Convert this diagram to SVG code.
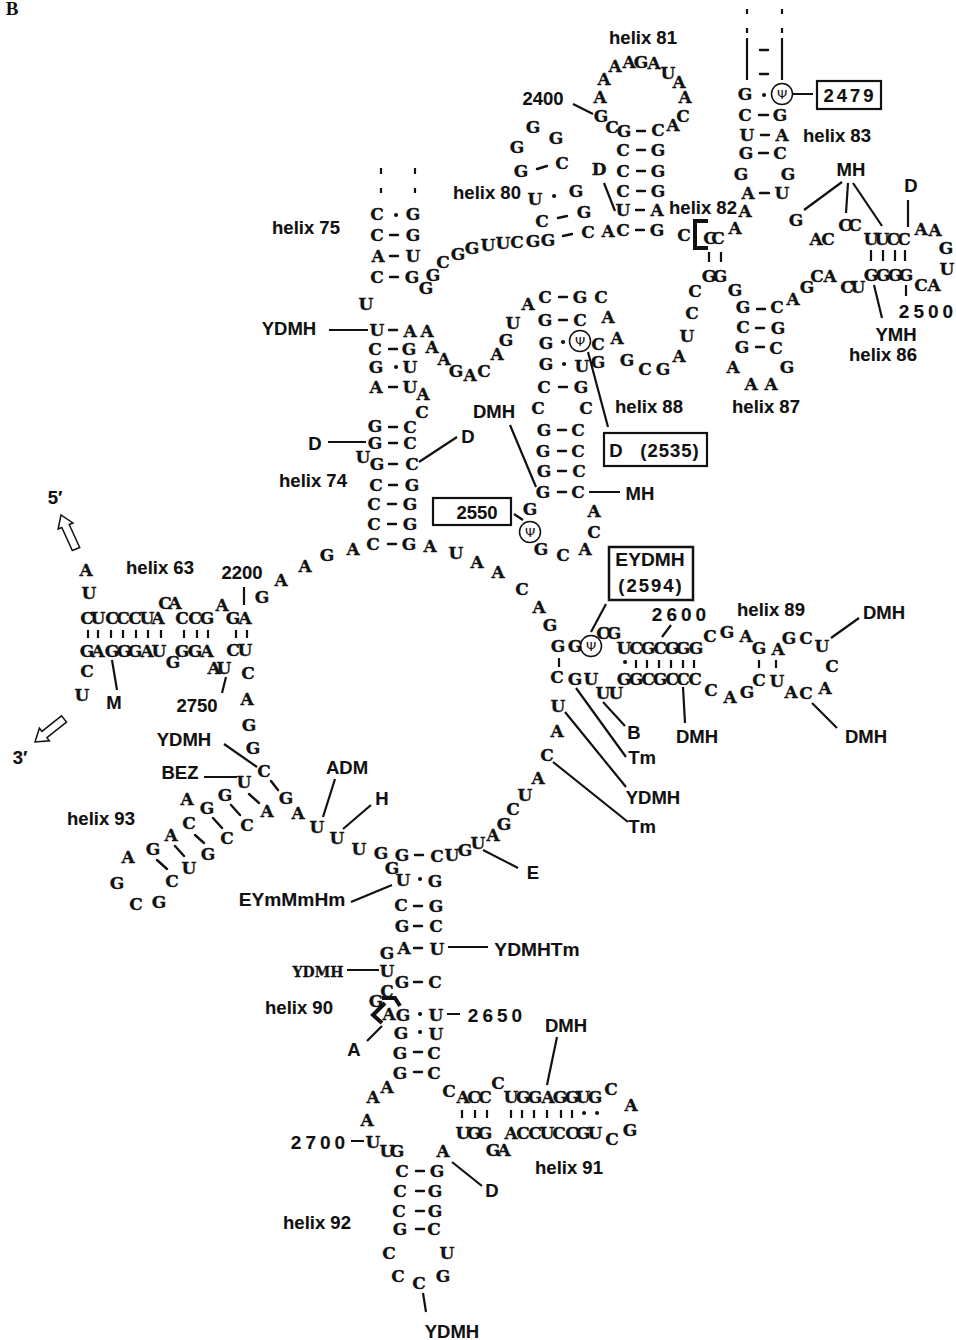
<svg xmlns="http://www.w3.org/2000/svg" width="956" height="1340" viewBox="0 0 956 1340">
<style>
text{dominant-baseline:central;text-anchor:middle;fill:#111}
.n text{font:bold 17px "DejaVu Serif","Liberation Serif",serif;stroke:#111;stroke-width:.3}
.n text.l{font:bold 18.5px "Liberation Sans",Arial,sans-serif;stroke-width:.1}
.n text.s{letter-spacing:3px}
.n text.w{letter-spacing:4px;font-size:19px}
.n text.x{font-size:19.2px}
.n text.g{font:13px "DejaVu Sans",sans-serif;stroke:none}
.c{fill:none;stroke:#111;stroke-width:2.2}
.d{fill:none;stroke:#111;stroke-width:2.4;stroke-linecap:round}
.p{fill:#fff;stroke:#111;stroke-width:1.5}
</style>
<rect width="956" height="1340" fill="#fff"/>
<g id="connectors">
<path class="c" d="M604 183L615 211M573 104L593 114M793 94H813M842 182L804 210M848 183L846 213M853 183L882 226M908 200V227M874 285L882 318M906 285V296M329 330H368M588 352L608 427M328 442H366M419 462L457 437M510 425L536 487M589 492H620M514 514L523 520M606 604L591 632M671 625L662 637M859 618L831 638M812 703L837 728M683 687L685 723M603 702L625 726M576 688L626 757M565 712L626 787M553 762L628 822M224 744L257 767M204 777H237M335 779L323 817M371 805L343 829M483 850L518 868M351 902L392 885M448 947H488M347 970H379M447 1014H460M382 1026L367 1041M351 1141H364M557 1037L547 1085M452 1162L482 1186M423 1293L426 1312M112 660L117 690M226 677L222 693M244 587V605"/>
<path class="c" d="M747 9V14M747 28V33M747 38V80M782 9V14M782 28V33M782 38V80M381 168V174M381 188V193M415 168V174M415 188V193M709 252V262M721 252V262M871 250V261M883 250V261M895 250V261M905 250V261M636 660V668M647 660V668M659 660V668M671 660V668M683 660V668M694 660V668M559 658V667M759 660V668M776 660V668M462 1110V1118M475 1110V1118M487 1110V1118M511 1110V1118M522 1110V1118M534 1110V1118M547 1110V1118M561 1110V1118M572 1110V1118M88 630V638M98 630V638M111 630V638M123 630V638M136 630V638M148 630V638M161 630V638M184 630V638M197 630V638M208 630V638M236 630V638M247 630V638"/>
<path class="d" d="M760 50h8M760 74h8M637 131h8M637 150h8M637 171h8M637 191h8M636 210h8M636 230h8M537 169l10-3M558 218l9-2M563 236l9-2M759 115h9M761 135h8M759 153h9M760 193h9M390 235h8M390 256h8M390 277h8M389 330h8M389 349h8M389 387h8M559 297h8M559 320h8M559 387h8M757 309h8M756 328h8M756 347h8M389 427h8M389 443h8M389 464h8M389 485h8M388 504h8M388 524h8M388 544h8M558 430h8M558 451h8M558 471h8M558 492h8M415 855h8M414 906h8M414 926h8M414 948h8M414 982h8M414 1052h8M414 1072h8M416 1171h8M416 1191h8M416 1211h8M416 1229h8M271 781l7 9M249 794l10 9M231 805l9 10M213 818l9 10M195 835l9 8M175 846l9 10M157 860l10 9"/>
<path d="M554 196h.1M764 95h.1M396 215h.1M563 342h.1M564 364h.1M396 367h.1M420 879h.1M420 1014h.1M420 1032h.1M625 662h.1M584 1113h.1M597 1113h.1" fill="none" stroke="#111" stroke-width="4" stroke-linecap="round"/>
<path fill="none" stroke="#111" stroke-width="4" d="M708 221H695V248H708M382 998L395 998L400 1006M385 1003L373 1015L382 1023"/>
<polygon class="p" points="79.7,547.5 69.2,524.5 72.9,523 61,515 58.1,529 61.8,527.5 72.3,550.5"/>
<polygon class="p" points="66.5,722.1 46.9,737.6 49.4,740.8 35,742 39.4,728.2 41.9,731.4 61.5,715.9"/>
</g>
<g id="helix-63" class="n">
<text class="l" x="160" y="567">helix 63</text><text class="l" x="242" y="572">2200</text><text class="l" x="197" y="705">2750</text><text class="l" x="114" y="702">M</text><text class="l" x="55" y="497">5′</text><text class="l" x="20" y="757">3′</text>
<text x="86" y="570">A</text><text x="89" y="593">U</text><text x="87" y="618">C</text><text x="98" y="618">U</text><text x="112" y="618">C</text><text x="123" y="618">C</text><text x="135" y="618">C</text><text x="147" y="618">U</text><text x="158" y="618">A</text><text x="165" y="603">C</text><text x="175" y="603">A</text><text x="182" y="618">C</text><text x="195" y="618">C</text><text x="207" y="618">G</text><text x="222" y="605">A</text><text x="233" y="618">G</text><text x="245" y="618">A</text><text x="262" y="597">G</text>
<text x="87" y="651">G</text><text x="98" y="651">A</text><text x="112" y="651">G</text><text x="124" y="651">G</text><text x="135" y="651">G</text><text x="147" y="651">A</text><text x="159" y="651">U</text><text x="173" y="662">G</text><text x="182" y="651">G</text><text x="195" y="651">G</text><text x="207" y="651">A</text><text x="214" y="668">A</text><text x="224" y="668">U</text><text x="233" y="650">C</text><text x="245" y="650">U</text><text x="87" y="671">C</text><text x="82" y="695">U</text>
</g>
<g id="helix-74-75" class="n">
<text class="l" x="306" y="227">helix 75</text><text class="l" x="313" y="480">helix 74</text><text class="l" x="289" y="328">YDMH</text><text class="l" x="315" y="443">D</text><text class="l" x="468" y="436">D</text>
<text x="281" y="580">A</text><text x="305" y="566">A</text><text x="327" y="555">G</text><text x="353" y="549">A</text>
<text x="373" y="544">C</text><text x="409" y="544">G</text><text x="430" y="546">A</text><text x="374" y="524">C</text><text x="410" y="524">G</text><text x="374" y="504">C</text><text x="410" y="504">G</text><text x="376" y="485">C</text><text x="412" y="485">G</text><text x="377" y="464">G</text><text x="412" y="464">C</text><text x="363" y="457">U</text><text x="375" y="443">G</text><text x="410" y="443">C</text><text x="375" y="426">G</text><text x="410" y="427">C</text><text x="422" y="412">C</text><text x="423" y="394">A</text>
<text x="376" y="387">A</text><text x="410" y="387">U</text><text x="376" y="367">G</text><text x="410" y="367">U</text><text x="375" y="349">C</text><text x="409" y="349">G</text><text x="377" y="330">U</text><text x="410" y="331">A</text><text x="427" y="331">A</text><text x="366" y="304">U</text>
<text x="377" y="277">C</text><text x="412" y="277">G</text><text x="378" y="256">A</text><text x="413" y="256">U</text><text x="377" y="235">C</text><text x="413" y="235">G</text><text x="377" y="214">C</text><text x="413" y="214">G</text>
</g>
<g id="helix-80" class="n">
<text class="l" x="487" y="192">helix 80</text>
<text x="426" y="288">G</text><text x="433" y="275">G</text><text x="443" y="262">C</text><text x="458" y="254">G</text><text x="472" y="248">G</text><text x="488" y="245">U</text><text x="503" y="243">U</text><text x="517" y="242">C</text><text x="533" y="241">G</text><text x="548" y="240">G</text><text x="588" y="232">C</text><text x="542" y="221">C</text><text x="584" y="212">G</text><text x="535" y="199">U</text><text x="576" y="191">G</text><text x="521" y="171">G</text><text x="562" y="163">C</text><text x="517" y="147">G</text><text x="533" y="127">G</text><text x="556" y="138">G</text>
</g>
<g id="helix-81" class="n">
<text class="l" x="643" y="37">helix 81</text><text class="l" x="543" y="98">2400</text><text x="599" y="169">D</text>
<text x="608" y="231">A</text><text x="623" y="230">C</text><text x="657" y="230">G</text><text x="623" y="210">U</text><text x="657" y="210">A</text><text x="623" y="191">C</text><text x="658" y="191">G</text><text x="623" y="171">C</text><text x="658" y="171">G</text><text x="623" y="150">C</text><text x="658" y="150">G</text><text x="624" y="131">G</text><text x="658" y="130">C</text><text x="612" y="127">C</text><text x="601" y="116">G</text><text x="600" y="97">A</text><text x="604" y="79">A</text><text x="615" y="66">A</text><text x="629" y="62">A</text><text x="641" y="62">G</text><text x="654" y="63">A</text><text x="668" y="73">U</text><text x="679" y="82">A</text><text x="685" y="97">A</text><text x="683" y="116">C</text><text x="673" y="125">A</text>
</g>
<g id="helix-82-83" class="n">
<text class="l" x="703" y="207">helix 82</text><text class="l" x="837" y="135">helix 83</text>
<rect x="817" y="81" width="64" height="28" fill="none" stroke="#111" stroke-width="2.2"/><text class="l s" x="850" y="95">2479</text>
<text x="745" y="94">G</text><circle cx="782" cy="94" r="10.5" fill="none" stroke="#111" stroke-width="1.5"/><text class="g" x="782" y="94">Ψ</text>
<text x="745" y="115">C</text><text x="780" y="115">G</text><text x="747" y="135">U</text><text x="782" y="135">A</text><text x="746" y="153">G</text><text x="780" y="153">C</text><text x="741" y="174">G</text><text x="788" y="174">G</text><text x="748" y="193">A</text><text x="782" y="193">U</text><text x="745" y="211">A</text><text x="735" y="228">A</text><text x="684" y="235">C</text><text x="710" y="238">C</text><text x="718" y="238">C</text><text x="709" y="276">G</text><text x="720" y="276">G</text>
</g>
<g id="helix-86-87" class="n">
<text class="l" x="851" y="169">MH</text><text class="l" x="911" y="185">D</text><text class="l" x="896" y="334">YMH</text><text class="l" x="883" y="354">helix 86</text><text class="l" x="766" y="406">helix 87</text><text class="l w" x="928" y="311">2500</text>
<text x="796" y="220">G</text><text x="816" y="239">A</text><text x="828" y="239">C</text><text x="845" y="225">C</text><text x="855" y="225">C</text><text x="871" y="239">U</text><text x="882" y="239">U</text><text x="893" y="239">C</text><text x="904" y="239">C</text><text x="921" y="229">A</text><text x="935" y="230">A</text><text x="946" y="248">G</text><text x="947" y="269">U</text><text x="921" y="285">C</text><text x="934" y="285">A</text><text x="871" y="275">G</text><text x="883" y="275">G</text><text x="895" y="275">G</text><text x="906" y="275">G</text><text x="847" y="287">C</text><text x="858" y="287">U</text><text x="817" y="276">C</text><text x="830" y="276">A</text><text x="807" y="287">G</text><text x="793" y="299">A</text>
<text x="735" y="290">G</text><text x="743" y="307">G</text><text x="777" y="307">C</text><text x="743" y="327">C</text><text x="778" y="328">G</text><text x="742" y="347">G</text><text x="776" y="348">C</text><text x="733" y="367">A</text><text x="787" y="367">G</text><text x="751" y="384">A</text><text x="771" y="384">A</text>
</g>
<g id="helix-88" class="n">
<text class="l" x="649" y="406">helix 88</text><text class="l" x="494" y="411">DMH</text><text class="l" x="640" y="493">MH</text>
<rect x="604" y="433" width="103" height="33" fill="none" stroke="#111" stroke-width="2.2"/><text class="l" x="616" y="450">D</text><text class="l s" x="670" y="450" style="letter-spacing:1px">(2535)</text>
<rect x="433" y="498" width="78" height="27" fill="none" stroke="#111" stroke-width="2.2"/><text class="l" x="477" y="512">2550</text>
<text x="695" y="291">C</text><text x="692" y="313">C</text><text x="687" y="336">U</text><text x="679" y="356">A</text><text x="663" y="369">G</text><text x="645" y="369">C</text><text x="627" y="360">G</text><text x="598" y="362">G</text><text x="617" y="338">A</text><text x="608" y="317">A</text><text x="601" y="297">C</text><text x="580" y="297">G</text><text x="545" y="297">C</text><text x="580" y="320">C</text><text x="545" y="320">G</text><text x="598" y="344">C</text><circle cx="580" cy="341" r="10.5" fill="none" stroke="#111" stroke-width="1.5"/><text class="g" x="580" y="341">Ψ</text><text x="546" y="343">G</text><text x="546" y="364">G</text><text x="582" y="366">U</text><text x="544" y="387">C</text><text x="581" y="387">G</text><text x="538" y="408">C</text><text x="586" y="408">C</text>
<text x="544" y="430">G</text><text x="578" y="430">C</text><text x="543" y="451">G</text><text x="578" y="451">C</text><text x="544" y="471">G</text><text x="579" y="471">C</text><text x="543" y="492">G</text><text x="578" y="492">C</text><text x="594" y="511">A</text><text x="594" y="532">C</text><text x="585" y="549">A</text><text x="563" y="555">C</text><text x="541" y="549">G</text><circle cx="530" cy="532" r="10.5" fill="none" stroke="#111" stroke-width="1.5"/><text class="g" x="530" y="532">Ψ</text><text x="530" y="509">G</text>
<text x="528" y="304">A</text><text x="513" y="323">U</text><text x="506" y="340">G</text><text x="497" y="354">A</text><text x="484" y="371">C</text><text x="470" y="375">A</text><text x="456" y="371">G</text><text x="444" y="359">A</text><text x="432" y="347">A</text>
</g>
<g id="helix-89" class="n">
<text class="l" x="771" y="609">helix 89</text><text class="l" x="884" y="612">DMH</text><text class="l" x="866" y="736">DMH</text><text class="l" x="697" y="736">DMH</text><text class="l" x="634" y="732">B</text><text class="l" x="642" y="757">Tm</text><text class="l" x="653" y="797">YDMH</text><text class="l" x="642" y="826">Tm</text><text class="l w" x="681" y="614">2600</text>
<rect x="609" y="547" width="84" height="53" fill="none" stroke="#111" stroke-width="2.5"/><text class="l x" x="650" y="559">EYDMH</text><text class="l s" x="651" y="585" style="letter-spacing:2px">(2594)</text>
<text x="456" y="553">U</text><text x="477" y="562">A</text><text x="498" y="572">A</text><text x="522" y="589">C</text><text x="539" y="607">A</text><text x="550" y="625">G</text><text x="558" y="646">G</text><text x="575" y="646">G</text><circle cx="591" cy="646" r="10.5" fill="none" stroke="#111" stroke-width="1.5"/><text class="g" x="591" y="646">Ψ</text><text x="603" y="633">C</text><text x="614" y="633">G</text>
<text x="624" y="648">U</text><text x="636" y="648">C</text><text x="648" y="648">G</text><text x="660" y="648">C</text><text x="672" y="648">G</text><text x="683" y="648">G</text><text x="696" y="648">G</text><text x="624" y="679">G</text><text x="636" y="679">G</text><text x="648" y="679">C</text><text x="660" y="679">G</text><text x="672" y="679">C</text><text x="683" y="679">C</text><text x="695" y="679">C</text>
<text x="710" y="636">C</text><text x="727" y="632">G</text><text x="746" y="636">A</text><text x="759" y="648">G</text><text x="778" y="649">A</text><text x="789" y="638">G</text><text x="806" y="638">C</text><text x="822" y="646">U</text><text x="832" y="666">C</text><text x="825" y="688">A</text><text x="806" y="693">C</text><text x="791" y="692">A</text><text x="777" y="681">U</text><text x="759" y="680">C</text><text x="747" y="692">G</text><text x="730" y="697">A</text><text x="711" y="690">C</text>
<text x="557" y="677">C</text><text x="575" y="679">G</text><text x="591" y="679">U</text><text x="603" y="693">U</text><text x="616" y="693">U</text><text x="558" y="706">U</text><text x="557" y="731">A</text><text x="547" y="755">C</text><text x="538" y="778">A</text><text x="525" y="795">U</text><text x="513" y="809">C</text><text x="504" y="824">G</text><text x="493" y="835">A</text><text x="478" y="843">U</text><text x="465" y="850">G</text><text x="452" y="855">U</text>
</g>
<g id="helix-93" class="n">
<text class="l" x="101" y="818">helix 93</text><text class="l" x="184" y="739">YDMH</text><text class="l" x="180" y="772">BEZ</text><text class="l" x="347" y="767">ADM</text><text class="l" x="382" y="798">H</text><text class="l" x="533" y="872">E</text><text class="l x" x="292" y="899">EYmMmHm</text>
<text x="248" y="673">C</text><text x="247" y="699">A</text><text x="249" y="725">G</text><text x="253" y="748">G</text><text x="264" y="771">C</text><text x="244" y="782">U</text><text x="286" y="798">G</text><text x="267" y="811">A</text><text x="298" y="813">A</text><text x="317" y="827">U</text><text x="337" y="838">U</text><text x="359" y="849">U</text><text x="381" y="853">G</text>
<text x="225" y="795">G</text><text x="187" y="799">A</text><text x="207" y="808">G</text><text x="247" y="825">C</text><text x="189" y="823">C</text><text x="227" y="838">C</text><text x="171" y="835">A</text><text x="208" y="854">G</text><text x="153" y="849">G</text><text x="189" y="868">U</text><text x="172" y="881">C</text><text x="128" y="857">A</text><text x="117" y="883">G</text><text x="136" y="904">C</text><text x="159" y="902">G</text>
</g>
<g id="helix-90" class="n">
<text class="l" x="299" y="1007">helix 90</text><text class="l x" x="537" y="949">YDMHTm</text><text x="318" y="972" style="font-size:14px">YDMH</text><text class="l" x="354" y="1049">A</text><text class="l w" x="497" y="1015">2650</text>
<text x="402" y="855">G</text><text x="437" y="856">C</text><text x="392" y="868">G</text><text x="403" y="880">U</text><text x="435" y="881">G</text><text x="401" y="905">C</text><text x="436" y="906">G</text><text x="402" y="926">G</text><text x="436" y="926">C</text><text x="387" y="953">G</text><text x="404" y="948">A</text><text x="437" y="949">U</text><text x="387" y="971">U</text><text x="402" y="982">G</text><text x="435" y="982">C</text><text x="387" y="991">C</text><text x="376" y="1001">G</text><text x="389" y="1014">A</text><text x="403" y="1015">G</text><text x="436" y="1015">U</text><text x="401" y="1033">G</text><text x="436" y="1034">U</text><text x="400" y="1053">G</text><text x="434" y="1053">C</text><text x="400" y="1073">G</text><text x="434" y="1073">C</text><text x="387" y="1087">A</text><text x="373" y="1097">A</text><text x="367" y="1120">A</text>
</g>
<g id="helix-91" class="n">
<text class="l" x="566" y="1025">DMH</text><text class="l" x="569" y="1167">helix 91</text>
<text x="449" y="1091">C</text><text x="463" y="1097">A</text><text x="474" y="1097">C</text><text x="485" y="1097">C</text><text x="498" y="1083">C</text><text x="511" y="1097">U</text><text x="523" y="1097">G</text><text x="535" y="1097">G</text><text x="548" y="1097">A</text><text x="560" y="1097">G</text><text x="572" y="1097">G</text><text x="583" y="1097">U</text><text x="595" y="1097">G</text><text x="611" y="1089">C</text><text x="631" y="1105">A</text><text x="630" y="1130">G</text><text x="612" y="1139">C</text>
<text x="463" y="1133">U</text><text x="474" y="1133">G</text><text x="485" y="1133">G</text><text x="493" y="1150">G</text><text x="504" y="1150">A</text><text x="511" y="1133">A</text><text x="523" y="1133">C</text><text x="535" y="1133">C</text><text x="547" y="1133">U</text><text x="559" y="1133">C</text><text x="572" y="1133">C</text><text x="583" y="1133">G</text><text x="595" y="1133">U</text>
</g>
<g id="helix-92" class="n">
<text class="l" x="317" y="1222">helix 92</text><text class="l w" x="320" y="1142">2700</text><text class="l" x="492" y="1190">D</text><text class="l" x="452" y="1331">YDMH</text>
<text x="373" y="1142">U</text><text x="387" y="1151">U</text><text x="397" y="1151">G</text><text x="443" y="1151">A</text><text x="402" y="1171">C</text><text x="437" y="1171">G</text><text x="400" y="1191">C</text><text x="435" y="1191">G</text><text x="399" y="1211">C</text><text x="435" y="1211">G</text><text x="400" y="1229">G</text><text x="434" y="1229">C</text><text x="389" y="1253">C</text><text x="447" y="1253">U</text><text x="398" y="1276">C</text><text x="419" y="1283">C</text><text x="443" y="1276">G</text>
</g>
<text x="12" y="8" style="font:bold 19px 'Liberation Serif',serif">B</text>
</svg>
